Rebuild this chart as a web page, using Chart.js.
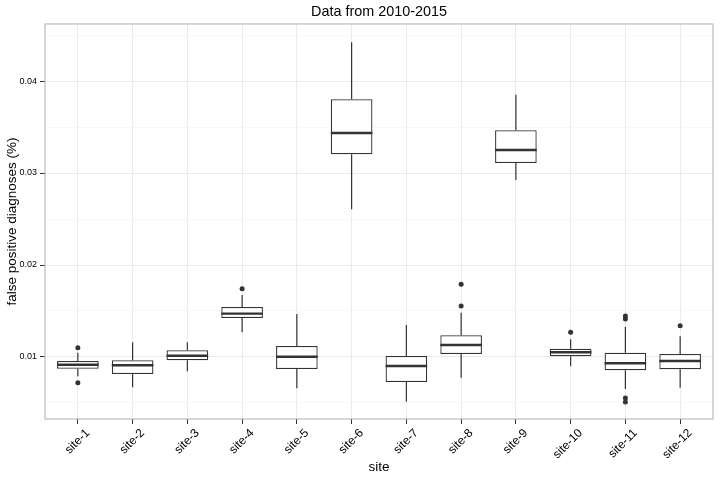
<!DOCTYPE html>
<html>
<head>
<meta charset="utf-8">
<script src="https://cdn.jsdelivr.net/npm/chart.js@4.4.0/dist/chart.umd.min.js"></script>
<style>
  html, body { margin: 0; padding: 0; background: #fff; }
  #wrap { width: 720px; height: 480px; }
</style>
</head>
<body>
<div id="wrap"><canvas id="chart" width="720" height="480"></canvas></div>
<script>
// categories
const sites = ["site-1", "site-2", "site-3", "site-4", "site-5", "site-6",
               "site-7", "site-8", "site-9", "site-10", "site-11", "site-12"];

// five number summaries per site
const whiskerLow  = [0.0079,  0.0067,  0.00845, 0.01268, 0.0066,  0.02605, 0.00514, 0.00775, 0.02924, 0.00899, 0.00652, 0.00666];
const boxLow      = [0.00873, 0.00815, 0.00964, 0.01424, 0.0087,  0.03203, 0.00728, 0.01033, 0.03109, 0.01008, 0.00855, 0.00866];
const medians     = [0.00916, 0.0091,  0.01014, 0.01471, 0.01003, 0.03435, 0.00902, 0.0113,  0.0325,  0.01051, 0.00932, 0.00957];
const boxHigh     = [0.00957, 0.00964, 0.01073, 0.01543, 0.0112,  0.03801, 0.01011, 0.01236, 0.03464, 0.0109,  0.01047, 0.01033];
const whiskerHigh = [0.01047, 0.0116,  0.0116,  0.01674, 0.01467, 0.04421, 0.01348, 0.01482, 0.03851, 0.01192, 0.01329, 0.01225];

// outliers: site number (1-based) and value
const outlierSite  = [1, 1, 4, 8, 8, 10, 11, 11, 11, 11, 12];
const outlierValue = [0.01101, 0.00721, 0.01742, 0.01554, 0.0179, 0.01268, 0.01446, 0.01413, 0.00554, 0.00511, 0.0134];

// y ticks: labelled majors, unlabelled minors
const yTicks      = [0.005, 0.01, 0.015, 0.02, 0.025, 0.03, 0.035, 0.04, 0.045];
const yTickLabels = ["", "0.01", "", "0.02", "", "0.03", "", "0.04", ""];

const FONT = "'Liberation Sans', Arial, sans-serif";
const LINE = "#333333";

const boxData = sites.map((s, i) => ({ x: i + 1, y: [boxLow[i], boxHigh[i]] }));
const outlierData = outlierSite.map((s, i) => ({ x: s, y: outlierValue[i] }));

// whiskers, medians and the panel border
const boxExtras = {
  id: "boxExtras",
  beforeDatasetsDraw(chart) {
    const { ctx, scales: { x, y } } = chart;
    ctx.save();
    ctx.strokeStyle = LINE;
    ctx.lineWidth = 1.2;
    sites.forEach((s, i) => {
      const px = x.getPixelForValue(i + 1);
      ctx.beginPath();
      ctx.moveTo(px, y.getPixelForValue(whiskerHigh[i]));
      ctx.lineTo(px, y.getPixelForValue(boxHigh[i]));
      ctx.moveTo(px, y.getPixelForValue(boxLow[i]));
      ctx.lineTo(px, y.getPixelForValue(whiskerLow[i]));
      ctx.stroke();
    });
    ctx.restore();
  },
  afterDatasetsDraw(chart) {
    const { ctx, scales: { y } } = chart;
    const meta = chart.getDatasetMeta(0);
    ctx.save();
    ctx.strokeStyle = LINE;
    ctx.lineWidth = 2.4;
    meta.data.forEach((bar, i) => {
      const half = bar.width / 2;
      const py = y.getPixelForValue(medians[i]);
      ctx.beginPath();
      ctx.moveTo(bar.x - half, py);
      ctx.lineTo(bar.x + half, py);
      ctx.stroke();
    });
    const a = chart.chartArea;
    ctx.strokeStyle = "#adadad";
    ctx.lineWidth = 1;
    ctx.strokeRect(a.left, a.top, a.right - a.left, a.bottom - a.top);
    ctx.restore();
  }
};

new Chart(document.getElementById("chart"), {
  type: "bar",
  data: {
    datasets: [
      {
        type: "bar",
        data: boxData,
        grouped: false,
        backgroundColor: "#ffffff",
        borderColor: LINE,
        borderWidth: 1.3,
        borderSkipped: false,
        categoryPercentage: 1,
        barPercentage: 0.76
      },
      {
        type: "scatter",
        data: outlierData,
        pointRadius: 2.5,
        pointBackgroundColor: LINE,
        pointBorderWidth: 0
      }
    ]
  },
  plugins: [boxExtras],
  options: {
    responsive: false,
    animation: false,
    devicePixelRatio: 1,
    layout: { padding: { left: 0, right: 7, top: 0, bottom: 0 } },
    plugins: {
      legend: { display: false },
      tooltip: { enabled: false },
      title: {
        display: true,
        text: "Data from 2010-2015",
        fullSize: false,
        color: "#000",
        font: { family: FONT, size: 14.4, weight: "normal", lineHeight: 1.2 },
        padding: { top: 3.5, bottom: 3.2 }
      }
    },
    scales: {
      x: {
        type: "linear",
        min: 0.4,
        max: 12.6,
        offset: false,
        afterBuildTicks: (axis) => { axis.ticks = sites.map((s, i) => ({ value: i + 1 })); },
        afterFit: (axis) => { axis.height = 61; },
        border: { display: false },
        grid: { offset: false, color: "#ebebeb", tickColor: LINE, tickLength: 5 },
        ticks: {
          autoSkip: false,
          minRotation: 45,
          maxRotation: 45,
          padding: 2,
          labelOffset: 10,
          color: "#000",
          font: { family: FONT, size: 12 },
          callback: (value, index) => sites[index]
        },
        title: {
          display: true,
          text: "site",
          color: "#000",
          font: { family: FONT, size: 13.5, lineHeight: 1.2 },
          padding: { top: 0, bottom: 5 }
        }
      },
      y: {
        min: 0.00326,
        max: 0.0462,
        afterBuildTicks: (axis) => { axis.ticks = yTicks.map(v => ({ value: v })); },
        afterFit: (axis) => { axis.width = 45; },
        border: { display: false },
        grid: {
          color: (c) => yTickLabels[c.index] ? "#ebebeb" : "#f7f7f7",
          tickColor: (c) => yTickLabels[c.index] ? LINE : "rgba(0,0,0,0)",
          tickLength: 5
        },
        ticks: {
          autoSkip: false,
          padding: 3,
          color: "#000",
          font: { family: FONT, size: 9 },
          callback: (value, index) => yTickLabels[index]
        },
        title: {
          display: true,
          text: "false positive diagnoses (%)",
          color: "#000",
          font: { family: FONT, size: 13.5, lineHeight: 1.2 },
          padding: { top: 4, bottom: 0 }
        }
      }
    }
  }
});
</script>
</body>
</html>
